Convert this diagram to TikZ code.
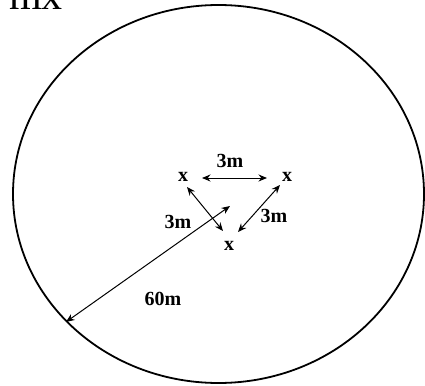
\documentclass[tikz,border=0pt]{standalone}
\usepackage{fontspec}
\setmainfont{Liberation Serif}
\usepackage{tikz}
\usetikzlibrary{shapes.geometric, arrows.meta}

\begin{document}
\begin{tikzpicture}[
  x=1pt, y=-1pt,
  lbl/.style={font=\fontsize{20}{24}\selectfont\bfseries, inner sep=0pt},
  tree/.style={font=\fontsize{20}{24}\selectfont\bfseries, inner sep=0pt},
  arr/.style={{Stealth[length=8.5pt,width=7pt]}-{Stealth[length=8.5pt,width=7pt]}, line width=1pt}
]
  \useasboundingbox (0,0) rectangle (425,385);

  % plot boundary
  \node[ellipse, draw, line width=1.8pt, minimum width=411pt, minimum height=378pt,
        inner sep=0pt] (field) at (218.5,194) {};
  \node[anchor=base west, inner sep=0pt, font=\fontsize{42}{48}\selectfont] (head) at (9,9.5) {mx};

  % trees
  \node[tree] (tl) at (183,177) {x};
  \node[tree] (tr) at (287,177) {x};
  \node[tree] (bt) at (229,246) {x};
  \coordinate (mid) at (230,206);

  \draw[arr] ([shift={(19,1)}]tl.center) -- ([shift={(-20,1)}]tr.center);
  \draw[arr] ([shift={(4,10)}]tl.center) -- ([shift={(-6,-15)}]bt.center);
  \draw[arr] ([shift={(-7,8)}]tr.center) -- ([shift={(9,-14)}]bt.center);
  \draw[arr] (mid) -- (field.220.9);

  \node[lbl] (d1) at (230,161) {3m};
  \node[lbl] (d2) at (178,222) {3m};
  \node[lbl] (d3) at (274,216) {3m};
  \node[lbl] (r)  at (163,299) {60m};
\end{tikzpicture}
\end{document}
